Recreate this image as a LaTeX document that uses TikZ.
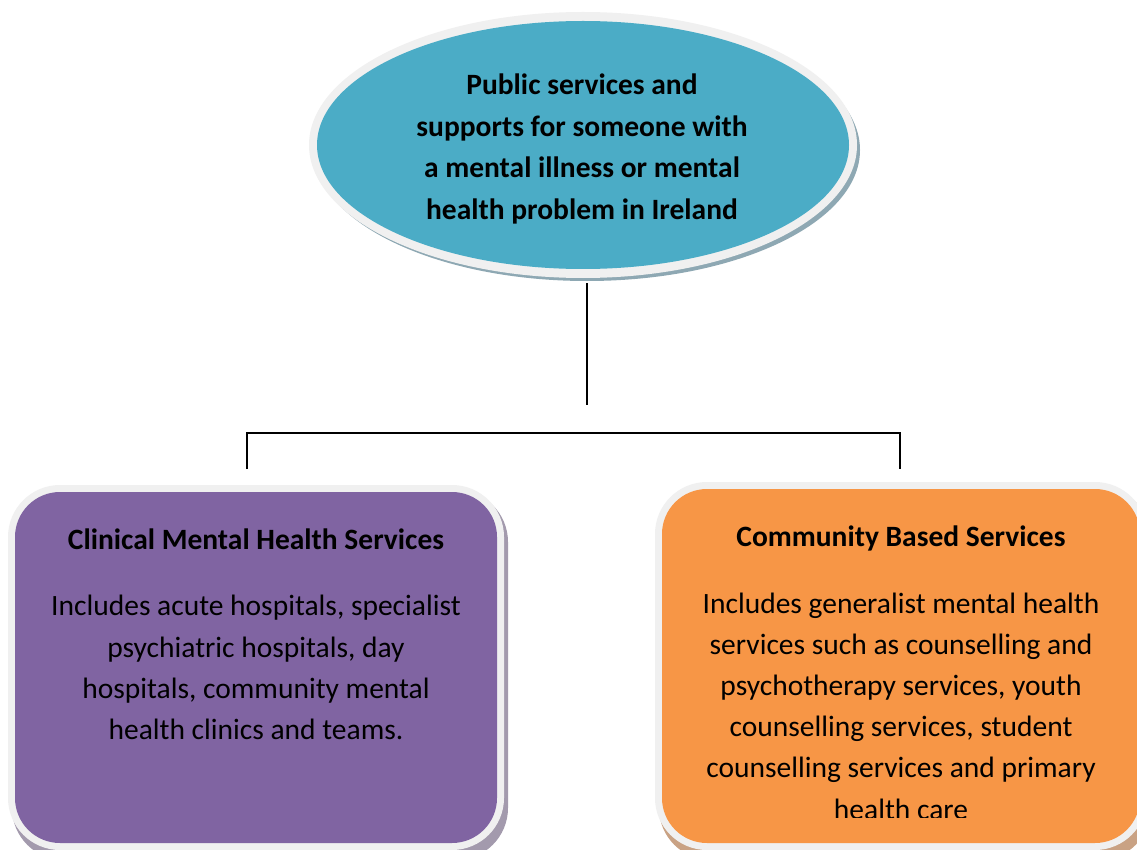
\documentclass[tikz,border=0pt]{standalone}
\usepackage{fontspec}
\setmainfont{Carlito}
\usetikzlibrary{calc}

\definecolor{tealfill}{HTML}{4BACC6}
\definecolor{purplefill}{HTML}{8064A2}
\definecolor{orangefill}{HTML}{F79646}
\definecolor{rimgray}{HTML}{F0F0F0}
\definecolor{tealshadow}{HTML}{8EA8B3}
\definecolor{purpleshadow}{HTML}{A39AAD}
\definecolor{orangeshadow}{HTML}{C9A284}

\tikzset{
  link/.style={draw=black, line width=2pt},
  headtext/.style={font=\fontsize{29.5}{41.5}\selectfont\bfseries, align=center, text=black, inner sep=0pt},
  titletext/.style={font=\fontsize{29.5}{41}\selectfont\bfseries, align=center, text=black, inner sep=0pt},
  bodytext/.style={font=\fontsize{29.5}{41.2}\selectfont, align=center, text=black, inner sep=0pt},
}

\begin{document}
\begin{tikzpicture}[x=1pt,y=-1pt]
\useasboundingbox (0,0) rectangle (1137,850);
\fill[white] (0,0) rectangle (1137,850);
\clip (0,0) rectangle (1137,850);

% ---- top ellipse: shadow, white rim, teal face
\fill[tealshadow] (587,150) ellipse [x radius=273pt, y radius=131pt];
\fill[rimgray] (583,145) ellipse [x radius=274pt, y radius=133pt];
\fill[tealfill] (583,145) ellipse [x radius=266pt, y radius=124pt];
\node[headtext] (top) at (582,149) {Public services and\\supports for someone with\\a mental illness or mental\\health problem in Ireland};
\coordinate (topbase) at (587,283);

% ---- left rounded box
\fill[purpleshadow, rounded corners=52pt] (12,490) rectangle (508,860);
\fill[rimgray, rounded corners=52pt] (8,485) rectangle (504,850);
\fill[purplefill, rounded corners=45pt] (15,492) rectangle (497,843);
\node[titletext] (lefttitle) at (256,539) {Clinical Mental Health Services};
\node[bodytext] (leftbody) at (256,667.5) {Includes acute hospitals, specialist\\psychiatric hospitals, day\\hospitals, community mental\\health clinics and teams.};

% ---- right rounded box
\fill[orangeshadow, rounded corners=52pt] (659,487) rectangle (1151,860);
\fill[rimgray, rounded corners=52pt] (655,482) rectangle (1147,850);
\fill[orangefill, rounded corners=45pt] (662,489) rectangle (1140,843);
\node[titletext] (righttitle) at (901,538) {Community Based Services};
\begin{scope}
  \clip (662,489) rectangle (1140,817);
  \node[bodytext] (rightbody) at (901,706) {Includes generalist mental health\\services such as counselling and\\psychotherapy services, youth\\counselling services, student\\counselling services and primary\\health care};
\end{scope}

% ---- connectors
\coordinate (stem) at (587,405);
\coordinate (barleft) at (247,433);
\coordinate (barright) at (900,433);
\coordinate (dropleft) at (247,469);
\coordinate (dropright) at (900,469);
\draw[link] (topbase) -- (stem);
\draw[link] (dropleft) -- (barleft) -- (barright) -- (dropright);
\end{tikzpicture}
\end{document}
